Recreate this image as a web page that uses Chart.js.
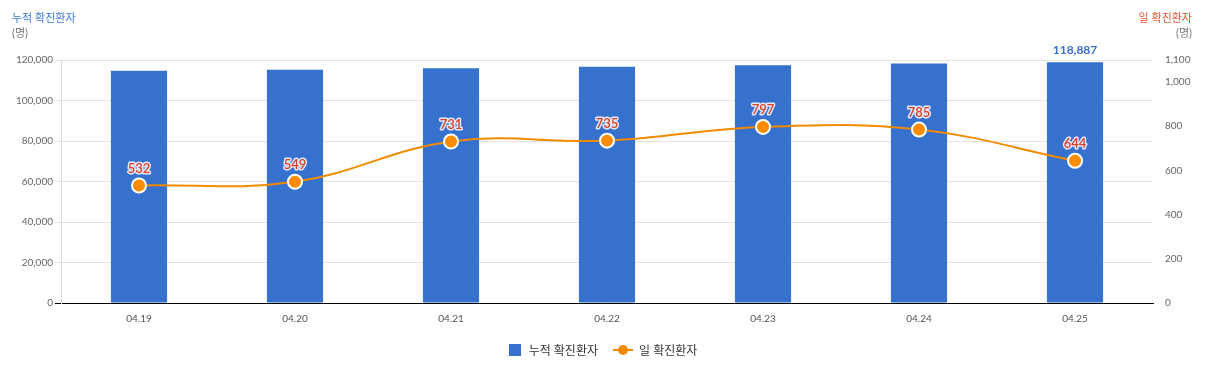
<!DOCTYPE html>
<html>
<head>
<meta charset="utf-8">
<script src="https://cdn.jsdelivr.net/npm/chart.js@4"></script>
<style>
  body { margin: 0; background: #fff; font-family: "Lato", "Noto Sans CJK KR", sans-serif; }
  #wrap { position: relative; width: 1206px; height: 370px; }
  canvas { position: absolute; left: 0; top: 0; }
  .ttl { position: absolute; font-size: 11px; line-height: 15px; }
  .legend { position: absolute; top: 341px; left: 0; width: 1206px; text-align: center; font-size: 12px; color: #333; }
  .legend span.item { display: inline-flex; align-items: center; margin: 0 6px; }
  .sw { display: inline-block; width: 12px; height: 12px; background: #3571cd; margin-right: 8px; }
  .ln { position: relative; display: inline-block; width: 20px; height: 12px; margin-right: 6px; }
  .ln:before { content: ""; position: absolute; left: 0; right: 0; top: 5px; border-top: 2px dashed #f28b00; }
  .ln:after { content: ""; position: absolute; left: 5px; top: 1px; width: 10px; height: 10px; border-radius: 50%; background: #f28b00; }
</style>
</head>
<body>
<div id="wrap">
  <canvas id="chart" width="1206" height="370"></canvas>
  <div class="ttl" style="left:12px;top:10px;color:#3a78d6;">누적 확진환자</div>
  <div class="ttl" style="left:12px;top:25px;color:#777;">(명)</div>
  <div class="ttl" style="right:14px;top:10px;color:#e8542c;text-align:right;">일 확진환자</div>
  <div class="ttl" style="right:14px;top:25px;color:#777;text-align:right;">(명)</div>
  <div class="legend">
    <span class="item"><span class="sw"></span>누적 확진환자</span>
    <span class="item"><span class="ln"></span>일 확진환자</span>
  </div>
</div>
<script>
const dates = ['04.19', '04.20', '04.21', '04.22', '04.23', '04.24', '04.25'];
const cumulative = [114646, 115195, 115926, 116661, 117458, 118243, 118887];
const daily = [532, 549, 731, 735, 797, 785, 644];
const leftTicks = [0, 20000, 40000, 60000, 80000, 100000, 120000];
const rightTicks = [0, 200, 400, 600, 800, 1000, 1100];

const fmt = v => v.toLocaleString('en-US');

// value labels: daily on every point, cumulative only on the last bar
const labelPlugin = {
    id: 'valueLabels',
    afterDatasetsDraw(chart) {
        const ctx = chart.ctx;
        ctx.save();
        ctx.textAlign = 'center';
        ctx.textBaseline = 'middle';

        const bars = chart.getDatasetMeta(1).data;
        const last = bars[bars.length - 1];
        ctx.font = 'bold 12px Lato, sans-serif';
        ctx.fillStyle = '#3a70c8';
        ctx.fillText(fmt(cumulative[cumulative.length - 1]), last.x, last.y - 12);

        ctx.font = '600 13px Lato, sans-serif';
        ctx.lineJoin = 'round';
        chart.getDatasetMeta(0).data.forEach((pt, i) => {
            ctx.lineWidth = 3;
            ctx.strokeStyle = 'rgba(240,244,252,0.9)';
            ctx.strokeText(daily[i], pt.x, pt.y - 17);
            ctx.fillStyle = '#d8402a';
            ctx.fillText(daily[i], pt.x, pt.y - 17);
        });
        ctx.restore();
    }
};

new Chart(document.getElementById('chart').getContext('2d'), {
    data: {
        labels: dates,
        datasets: [
            {
                type: 'line',
                label: '일 확진환자',
                data: daily,
                yAxisID: 'y1',
                borderColor: '#f28b00',
                borderWidth: 2,
                backgroundColor: '#ff8c00',
                pointBackgroundColor: '#ff8c00',
                pointBorderColor: '#fff',
                pointBorderWidth: 2,
                pointRadius: 7,
                tension: 0.4,
                fill: false,
                order: 0
            },
            {
                type: 'bar',
                label: '누적 확진환자',
                data: cumulative,
                yAxisID: 'y',
                backgroundColor: '#3571cd',
                barPercentage: 0.36,
                categoryPercentage: 1,
                order: 1
            }
        ]
    },
    options: {
        responsive: false,
        animation: false,
        layout: { padding: { top: 60, left: 0, right: 0, bottom: 0 } },
        plugins: {
            legend: { display: false },
            tooltip: { enabled: false }
        },
        scales: {
            x: {
                grid: { display: false, drawTicks: false },
                border: { color: '#000', width: 1 },
                ticks: { color: '#555', font: { size: 10, family: 'Lato' }, padding: 10 },
                afterFit(s) { s.height = 67; }
            },
            y: {
                position: 'left',
                min: 0,
                max: 120000,
                afterBuildTicks(s) { s.ticks = leftTicks.map(v => ({ value: v })); },
                grid: {
                    color: c => c.tick && c.tick.value === 0 ? '#000' : '#e3e3e3',
                    tickLength: 6
                },
                border: { color: '#ddd' },
                ticks: { color: '#666', font: { size: 10, family: 'Lato' }, padding: 2, callback: v => fmt(v) },
                afterFit(s) { s.width = 61; }
            },
            y1: {
                position: 'right',
                min: 0,
                max: 1100,
                afterBuildTicks(s) { s.ticks = rightTicks.map(v => ({ value: v })); },
                grid: { drawOnChartArea: false, drawTicks: false },
                border: { display: false },
                ticks: { color: '#666', font: { size: 10, family: 'Lato' }, padding: 12, callback: v => fmt(v) },
                afterFit(s) { s.width = 53; }
            }
        }
    },
    plugins: [labelPlugin]
});
</script>
</body>
</html>
